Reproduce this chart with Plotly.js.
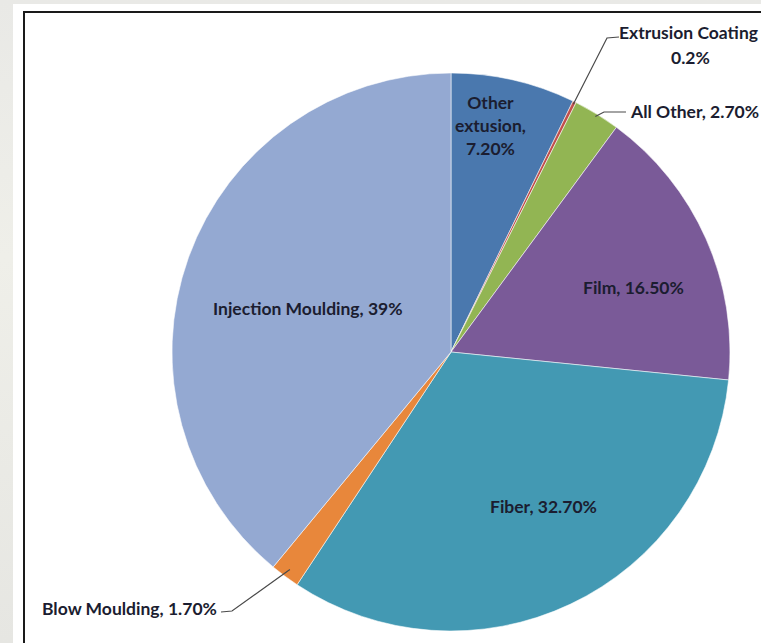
<!DOCTYPE html>
<html>
<head>
<meta charset="utf-8">
<script src="https://cdn.plot.ly/plotly-3.0.1.min.js"></script>
<style>
  html, body { margin: 0; padding: 0; width: 761px; height: 643px; overflow: hidden;
    background: linear-gradient(180deg, #e9e9e6 0%, #efefe9 40%, #e6e6e2 100%); }
  #panel { position: absolute; left: 13px; top: 4px; right: 0; bottom: 0; background: #ffffff; }
  #frame { position: absolute; left: 23px; top: 11px; width: 800px; height: 700px;
    border: 2px solid #1a1a1a; background: #ffffff; }
  #chart { position: absolute; left: 0; top: 0; width: 761px; height: 643px; }
</style>
</head>
<body>
<div id="panel"></div>
<div id="frame"></div>
<div id="chart"></div>
<script>
// ---- data ----
const categories = ["Other extusion", "Extrusion Coating", "All Other", "Film", "Fiber", "Blow Moulding", "Injection Moulding"];
const shares = [7.2, 0.2, 2.7, 16.5, 32.7, 1.7, 39];
const valueLabels = ["7.20%", "0.2%", "2.70%", "16.50%", "32.70%", "1.70%", "39%"];
const sliceColors = ["#4a78ae", "#c0504d", "#92b553", "#7a5a98", "#4399b3", "#e8873b", "#94a9d2"];

// ---- geometry (pixels) ----
const W = 761, H = 643;
const cx = 451, cy = 352, R = 279;
const px = x => x / W;
const py = y => 1 - y / H;
const total = shares.reduce((a, b) => a + b, 0);
function edgePoint(i, rf) {
  let before = 0;
  for (let k = 0; k < i; k++) before += shares[k];
  const mid = before + shares[i] / 2;
  const ang = 2 * Math.PI * mid / total;
  return [cx + R * rf * Math.sin(ang), cy - R * rf * Math.cos(ang)];
}

const font = { family: "Lato, 'Open Sans', sans-serif", size: 17.5, color: "#1b1d30" };
const bold = s => "<b>" + s + "</b>";

const trace = {
  type: "pie",
  labels: categories,
  values: shares,
  sort: false,
  direction: "clockwise",
  rotation: 0,
  textinfo: "none",
  hoverinfo: "label+percent",
  marker: { colors: sliceColors, line: { color: "rgba(255,255,255,0.55)", width: 1 } },
  domain: { x: [px(cx - R), px(cx + R)], y: [py(cy + R), py(cy - R)] },
  showlegend: false
};

const ann = (text, x, y, xanchor) => ({
  text: bold(text), x: px(x), y: py(y), xref: "paper", yref: "paper",
  xanchor: xanchor || "center", yanchor: "middle", showarrow: false, font: font, align: "center"
});

const otherWords = categories[0].split(" ");
const annotations = [
  ann(otherWords[0] + "<br>" + otherWords[1] + ",<br>" + valueLabels[0], 490, 125),
  ann(categories[1], 688, 33),
  ann(valueLabels[1], 690, 58),
  ann(categories[2] + ", " + valueLabels[2], 628, 111, "left"),
  ann(categories[3] + ", " + valueLabels[3], 633, 287),
  ann(categories[4] + ", " + valueLabels[4], 543, 506),
  ann(categories[5] + ", " + valueLabels[5], 219, 608, "right"),
  ann(categories[6] + ", " + valueLabels[6], 308, 308)
];

function pathFrom(points) {
  return points.map((p, k) => (k ? "L" : "M") + px(p[0]).toFixed(5) + "," + py(p[1]).toFixed(5)).join(" ");
}
const e1 = edgePoint(1, 0.99), e2 = edgePoint(2, 0.99), e5 = edgePoint(5, 0.97);
const lineStyle = { color: "#4a4a4a", width: 1.2 };
const shapes = [
  { type: "path", xref: "paper", yref: "paper", path: pathFrom([e1, [607, 38], [619, 37]]), line: lineStyle },
  { type: "path", xref: "paper", yref: "paper", path: pathFrom([e2, [604, 112], [626, 112]]), line: lineStyle },
  { type: "path", xref: "paper", yref: "paper", path: pathFrom([e5, [232, 611], [221, 612]]), line: lineStyle }
];

const layout = {
  width: W, height: H,
  margin: { l: 0, r: 0, t: 0, b: 0 },
  paper_bgcolor: "rgba(0,0,0,0)",
  plot_bgcolor: "rgba(0,0,0,0)",
  annotations: annotations,
  shapes: shapes,
  showlegend: false
};

Plotly.newPlot("chart", [trace], layout, { displayModeBar: false, staticPlot: true });
</script>
</body>
</html>
